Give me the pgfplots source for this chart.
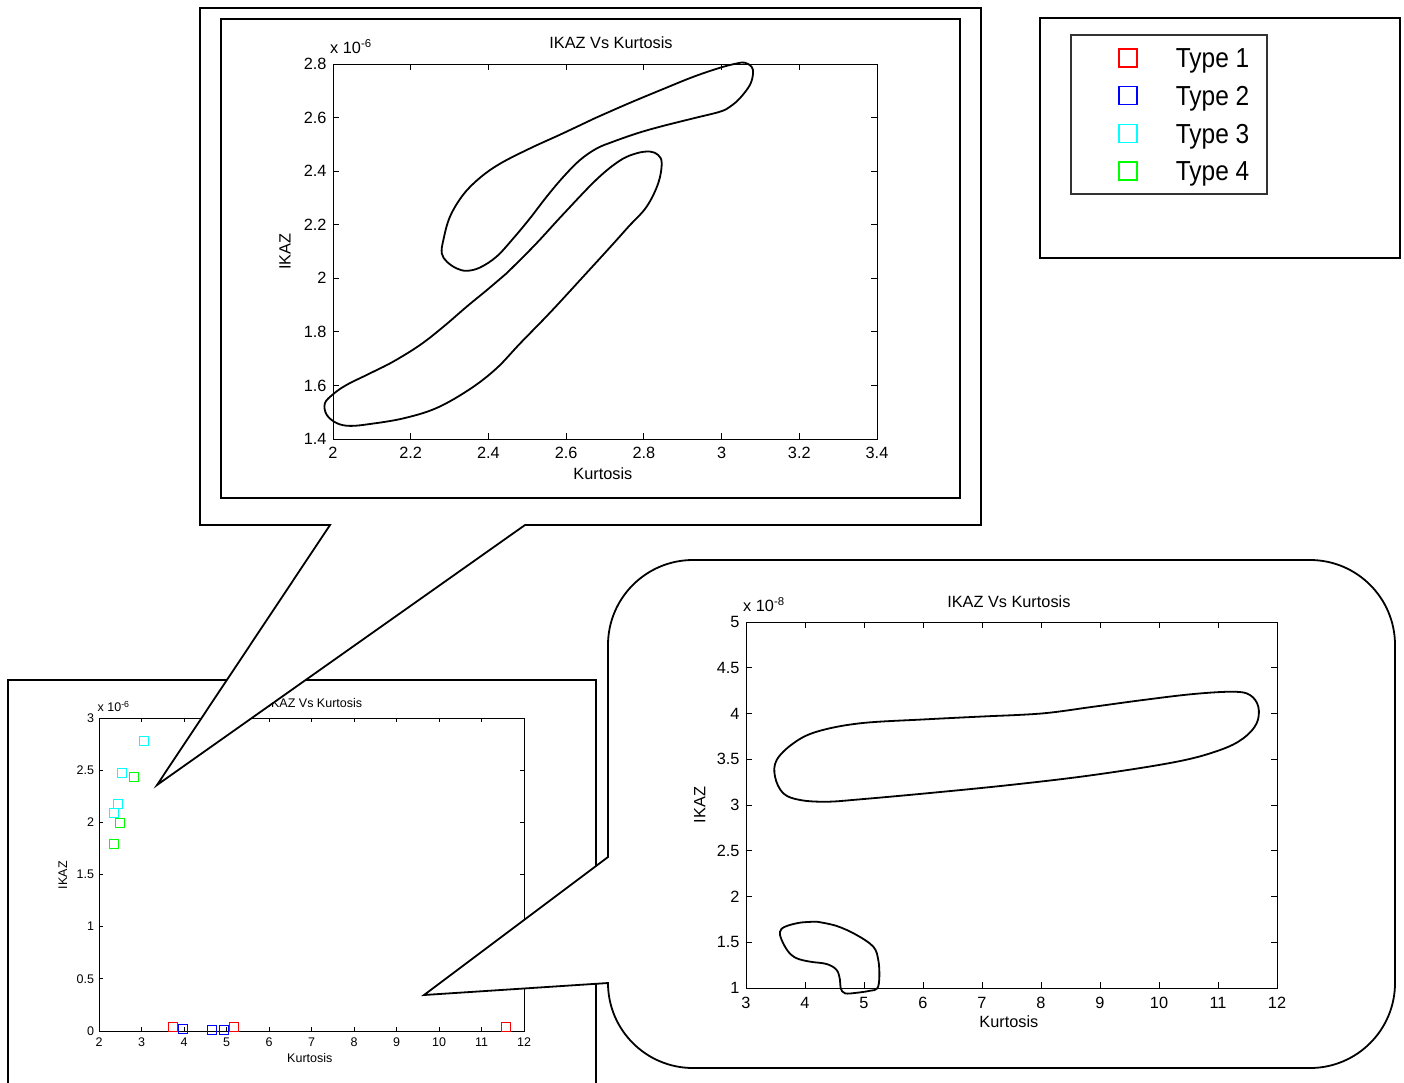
\documentclass[border=0pt]{standalone}
\usepackage{pgfplots}
\pgfplotsset{compat=1.18}
\usepackage{fontspec}
\setmainfont{Liberation Sans}
\newfontfamily\legfont[FakeStretch=0.89]{Liberation Sans}
\definecolor{mred}{rgb}{1,0,0}
\definecolor{mblue}{rgb}{0,0,1}
\definecolor{mcyan}{rgb}{0,1,1}
\definecolor{mgreen}{rgb}{0,1,0}

\pgfplotsset{
  mlab/.style={
    scale only axis, clip=false,
    axis line style={line width=0.9pt},
    every tick/.style={black, line width=0.9pt},
    major tick length=6pt,
    tick align=inside,
    xtick pos=both, ytick pos=both,
    /pgf/number format/assume math mode=true,
    axis background/.style={fill=white},
    scaled x ticks=false,
    every axis title/.style={anchor=center},
    every axis x label/.style={anchor=center},
    every axis y label/.style={anchor=center, rotate=90},
    every y tick scale label/.style={at={(axis description cs:0,1)}, anchor=south west, inner sep=0pt},
    ytick scale label code/.code={x 10\textsuperscript{##1}},
  },
  curve/.style={black, line width=1.8pt, smooth, tension=0.6, no marks},
  sq/.style={only marks, mark=square, mark size=4.5pt, line width=1pt, #1,
    legend image code/.code={\path[draw=none,fill=none] (-57pt,0pt) -- (48pt,0pt); \draw[##1, mark size=9pt, line width=1.4pt] plot coordinates {(0pt,0pt)};}},
}

\begin{document}
\begin{tikzpicture}[x=1pt,y=1pt]
\path[use as bounding box] (0,0) rectangle (1404,-1082);
\clip (0,0) rectangle (1404,-1082);

% ---------- bottom-left figure ----------
\draw[line width=1.8pt, fill=white] (8,-680) rectangle (596,-1100);
\begin{axis}[mlab, at={(99pt,-1031pt)}, anchor=south west,
  width=425pt, height=313pt, font=\fontsize{12.5}{15}\selectfont,
  major tick length=4pt,
  xticklabel style={yshift=-3pt}, yticklabel style={xshift=-1.5pt},
  xmin=2, xmax=12, ymin=0, ymax=3e-6,
  xtick={2,3,4,5,6,7,8,9,10,11,12},
  ytick={0,0.5e-6,1e-6,1.5e-6,2e-6,2.5e-6,3e-6},
  scaled y ticks=base 10:6,
  every y tick scale label/.append style={yshift=6pt},
  title={IKAZ Vs Kurtosis}, title style={at={(axis description cs:0.508,1.048)}},
  xlabel={Kurtosis}, xlabel style={at={(axis description cs:0.496,-0.086)}},
  ylabel={IKAZ}, ylabel style={at={(axis description cs:-0.085,0.498)}},
  legend cell align=left,
  legend style={at={(2.2847,3.1853)}, anchor=north west, draw=black!80, line width=1.6pt,
    fill=white, inner xsep=0pt, inner ysep=4.2pt, row sep=0pt,
    font=\legfont\fontsize{27.5}{30}\selectfont,
    nodes={inner sep=0pt, text height=28.85pt, text depth=8.85pt}},
]
\addplot[sq=mred] coordinates {(3.75,3.5e-8) (5.18,3.6e-8) (11.58,4.1e-8)};
\addlegendentry{\makebox[91pt][l]{Type 1}}
\addplot[sq=mblue] coordinates {(3.97,1.5e-8) (4.65,1.3e-8) (4.93,1.2e-8)};
\addlegendentry{\makebox[91pt][l]{Type 2}}
\addplot[sq=mcyan] coordinates {(3.06,2.776e-6) (2.53,2.47e-6) (2.44,2.18e-6) (2.36,2.085e-6)};
\addlegendentry{\makebox[91pt][l]{Type 3}}
\addplot[sq=mgreen] coordinates {(2.83,2.437e-6) (2.49,1.99e-6) (2.36,1.794e-6)};
\addlegendentry{\makebox[91pt][l]{Type 4}}
\end{axis}

% ---------- top callout ----------
\draw[line width=1.8pt, fill=white, line join=miter] (200,-8) -- (981,-8) -- (981,-525) -- (525,-525) -- (157,-785) -- (330,-525) -- (200,-525) -- cycle;
\draw[line width=1.8pt] (221,-19) rectangle (960,-498);
\begin{axis}[mlab, at={(333pt,-439pt)}, anchor=south west,
  width=544pt, height=375pt, font=\fontsize{16.3}{19}\selectfont,
  xticklabel style={yshift=-5pt}, yticklabel style={xshift=-3pt},
  xmin=2, xmax=3.4, ymin=1.4e-6, ymax=2.8e-6,
  xtick={2,2.2,2.4,2.6,2.8,3,3.2,3.4},
  ytick={1.4e-6,1.6e-6,1.8e-6,2e-6,2.2e-6,2.4e-6,2.6e-6,2.8e-6},
  scaled y ticks=base 10:6,
  every y tick scale label/.append style={yshift=10pt},
  title={IKAZ Vs Kurtosis}, title style={at={(axis description cs:0.511,1.056)}},
  xlabel={Kurtosis}, xlabel style={at={(axis description cs:0.496,-0.093)}},
  ylabel={IKAZ}, ylabel style={at={(axis description cs:-0.088,0.5)}},
]
\addplot[curve] coordinates {
(2.670,2.595e-6) (2.756,2.650e-6) (2.842,2.702e-6) (2.927,2.752e-6) (2.996,2.786e-6)
(3.039,2.802e-6) (3.060,2.805e-6) (3.077,2.790e-6) (3.081,2.765e-6) (3.073,2.722e-6)
(3.047,2.672e-6) (3.022,2.641e-6) (2.996,2.622e-6) (2.927,2.597e-6) (2.842,2.566e-6)
(2.782,2.541e-6) (2.721,2.510e-6) (2.679,2.485e-6) (2.636,2.442e-6) (2.593,2.379e-6)
(2.550,2.305e-6) (2.507,2.224e-6) (2.464,2.149e-6) (2.421,2.081e-6) (2.378,2.040e-6)
(2.344,2.028e-6) (2.318,2.037e-6) (2.293,2.062e-6) (2.280,2.093e-6) (2.284,2.143e-6)
(2.301,2.230e-6) (2.335,2.312e-6) (2.378,2.375e-6) (2.430,2.428e-6) (2.507,2.485e-6)
(2.590,2.540e-6) (2.670,2.595e-6)};
\addplot[curve] coordinates {
(2.447,2.019e-6) (2.520,2.125e-6) (2.593,2.240e-6) (2.679,2.370e-6) (2.739,2.440e-6)
(2.782,2.467e-6) (2.816,2.473e-6) (2.837,2.460e-6) (2.846,2.429e-6) (2.837,2.355e-6)
(2.807,2.267e-6) (2.760,2.192e-6) (2.720,2.127e-6) (2.640,2.000e-6) (2.560,1.874e-6)
(2.481,1.756e-6) (2.421,1.664e-6) (2.353,1.587e-6) (2.267,1.516e-6) (2.181,1.477e-6)
(2.095,1.456e-6) (2.044,1.449e-6) (2.010,1.459e-6) (1.984,1.490e-6) (1.979,1.533e-6)
(2.001,1.568e-6) (2.035,1.602e-6) (2.095,1.645e-6) (2.155,1.689e-6) (2.224,1.751e-6)
(2.284,1.819e-6) (2.344,1.894e-6) (2.396,1.956e-6) (2.447,2.019e-6)};
\end{axis}

% ---------- bottom-right callout ----------
\draw[line width=1.8pt, fill=white, line join=miter]
  (608,-857) -- (608,-645) arc[start angle=180, end angle=90, radius=85]
  -- (1310,-560) arc[start angle=90, end angle=0, radius=85]
  -- (1395,-983) arc[start angle=0, end angle=-90, radius=85]
  -- (693,-1068) arc[start angle=270, end angle=180, radius=85]
  -- (424,-995) -- cycle;
\begin{axis}[mlab, at={(746pt,-988pt)}, anchor=south west,
  width=531pt, height=366pt, font=\fontsize{16.3}{19}\selectfont,
  xticklabel style={yshift=-6pt}, yticklabel style={xshift=-3pt},
  xmin=3, xmax=12, ymin=1e-8, ymax=5e-8,
  xtick={3,4,5,6,7,8,9,10,11,12},
  ytick={1e-8,1.5e-8,2e-8,2.5e-8,3e-8,3.5e-8,4e-8,4.5e-8,5e-8},
  scaled y ticks=base 10:8,
  every y tick scale label/.append style={yshift=10pt},
  title={IKAZ Vs Kurtosis}, title style={at={(axis description cs:0.495,1.055)}},
  xlabel={Kurtosis}, xlabel style={at={(axis description cs:0.495,-0.093)}},
  ylabel={IKAZ}, ylabel style={at={(axis description cs:-0.087,0.5)}},
]
\addplot[curve] coordinates {
(7.192,3.973e-8) (8.040,4.002e-8) (8.887,4.074e-8) (9.734,4.148e-8) (10.582,4.213e-8)
(11.260,4.238e-8) (11.542,4.202e-8) (11.683,4.074e-8) (11.655,3.893e-8) (11.429,3.729e-8)
(11.034,3.601e-8) (10.300,3.473e-8) (8.887,3.328e-8) (7.475,3.219e-8) (6.063,3.128e-8)
(4.932,3.062e-8) (4.368,3.036e-8) (3.915,3.055e-8) (3.632,3.128e-8) (3.492,3.309e-8)
(3.520,3.492e-8) (3.802,3.674e-8) (4.198,3.801e-8) (4.932,3.893e-8) (6.063,3.937e-8)
(7.192,3.973e-8)};
\addplot[curve] coordinates {
(4.198,1.725e-8) (4.537,1.678e-8) (4.876,1.579e-8) (5.158,1.451e-8) (5.242,1.306e-8)
(5.260,1.124e-8) (5.226,0.997e-8) (5.102,0.970e-8) (4.876,0.948e-8) (4.678,0.942e-8)
(4.605,0.997e-8) (4.593,1.087e-8) (4.537,1.197e-8) (4.368,1.262e-8) (4.085,1.288e-8)
(3.859,1.325e-8) (3.717,1.397e-8) (3.605,1.525e-8) (3.576,1.615e-8) (3.661,1.670e-8)
(3.915,1.714e-8) (4.198,1.725e-8)};
\end{axis}

% ---------- legend frame ----------
\draw[line width=1.8pt] (1040,-18) rectangle (1400,-258);
\end{tikzpicture}
\end{document}
